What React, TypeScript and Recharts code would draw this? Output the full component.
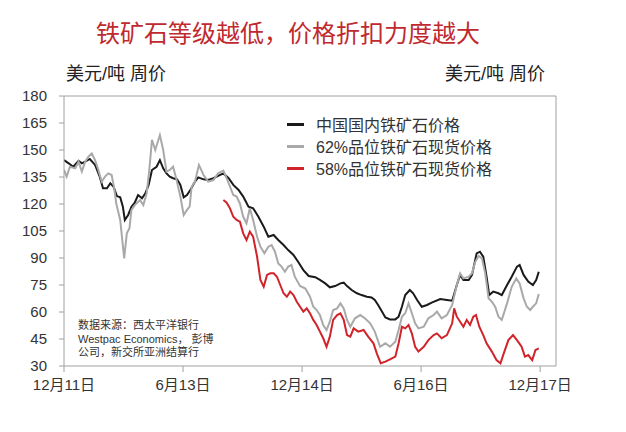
import React from 'react';
import { LineChart, Line, XAxis, YAxis, ReferenceLine } from 'recharts';

// Months since Dec 2011 on the x axis
const xTickMonths = [0, 18, 36, 54, 72];
const xTickLabels = ['12月11日', '6月13日', '12月14日', '6月16日', '12月17日'];
const yTicks = [30, 45, 60, 75, 90, 105, 120, 135, 150, 165, 180];
const seriesNames = ['中国国内铁矿石价格', '62%品位铁矿石现货价格', '58%品位铁矿石现货价格'];
const seriesColors = ['#1a1a1a', '#a9a9a9', '#d1232a'];
const titleText = '铁矿石等级越低，价格折扣力度越大';
const unitText = '美元/吨 周价';
const sourceLines = ['数据来源：西太平洋银行', 'Westpac Economics， 彭博', '公司，新交所亚洲结算行'];

// [month, US$/t]
const domesticPrice: [number, number][] = [
  [0, 144.4], [0.7, 142.6], [1.4, 140.7], [2.2, 144], [2.7, 142.6], [3.2, 143.5], [3.9, 145], [4.7, 141.7],
  [5.4, 135.2], [5.9, 128.7], [6.5, 128.7], [7.0, 131.5], [7.5, 129.6], [8.0, 124.4], [8.5, 123.7], [8.9, 118.5],
  [9.2, 111.1], [9.7, 113.9], [10.2, 118.5], [10.7, 120.7], [11.2, 125], [11.8, 123.2], [12.3, 125.9], [12.8, 130.6],
  [13.3, 138.9], [14.0, 140.7], [14.5, 144.4], [15.0, 139.8], [15.5, 137], [16.0, 135.2], [16.5, 134.3], [17.1, 133.7],
  [17.6, 130.6], [18.1, 123.7], [18.6, 125], [19.1, 127.8], [19.8, 132.4], [20.3, 134.8], [21.1, 133.7], [21.8, 133.3],
  [22.6, 134.3], [23.3, 135.6], [24.1, 137], [24.9, 134.3], [25.6, 130.6], [26.4, 127.8], [27.1, 124.1], [27.9, 118.5],
  [28.6, 117.6], [29.4, 112.9], [30.2, 107.4], [30.9, 101.8], [31.7, 102.8], [32.4, 100], [33.2, 97.2], [33.9, 94.4],
  [34.7, 91.7], [35.4, 87.9], [36.2, 83.3], [37.0, 80], [38.0, 79.3], [38.7, 77.8], [39.5, 75.9], [40.2, 73.7],
  [41.0, 74.4], [41.8, 75.9], [42.3, 76.3], [42.8, 74.4], [43.5, 72.2], [44.3, 70.4], [45.0, 69.4], [45.8, 68.5],
  [46.5, 68.1], [47.0, 66.7], [47.5, 63.9], [48.1, 60.2], [48.6, 57], [49.3, 55.9], [50.1, 55.9], [50.6, 57.4],
  [51.1, 62.9], [51.6, 69.4], [52.3, 72.2], [52.8, 70.4], [53.4, 66.7], [54.1, 62.9], [54.9, 63.9], [55.6, 65.2],
  [56.9, 67.2], [57.9, 66.7], [58.7, 66.3], [59.4, 75], [59.9, 80.6], [60.4, 77.8], [61.2, 77.8], [61.7, 80.6],
  [62.4, 92.6], [62.9, 93.5], [63.4, 90.7], [63.9, 79.6], [64.3, 69.4], [64.9, 71.3], [65.7, 70.4], [66.2, 69.4],
  [67.0, 75], [67.7, 79.6], [68.5, 85.2], [68.9, 86.1], [69.5, 80.6], [70.2, 76.9], [70.9, 75], [71.4, 77.8], [71.8, 82.4],
];

const spot62: [number, number][] = [
  [0, 138.9], [0.4, 135.2], [0.9, 140.7], [1.7, 139.8], [2.2, 143.5], [2.7, 138], [3.2, 143.5], [3.7, 146.3],
  [4.2, 148.1], [4.7, 144.4], [5.2, 138.9], [5.7, 132.4], [6.2, 135.2], [6.7, 137], [7.2, 136.1], [7.6, 128.7],
  [7.9, 120.3], [8.5, 111.1], [9.1, 89.8], [9.5, 103.7], [9.9, 106.5], [10.2, 116.7], [10.7, 119.4], [11.5, 122.2],
  [12.0, 119.4], [12.5, 125.9], [12.9, 138.9], [13.3, 155.6], [13.8, 150], [14.5, 158.3], [15.0, 150], [15.5, 138],
  [16.0, 138.9], [16.5, 140.7], [16.9, 135.2], [17.6, 124.1], [18.1, 113.9], [18.6, 116.7], [19.0, 118.5], [19.3, 129.6],
  [19.8, 132.4], [20.4, 141.7], [21.1, 136.1], [21.8, 132.4], [22.6, 133.3], [23.3, 137], [24.1, 138.5], [24.6, 134.3],
  [25.1, 129.6], [25.6, 125], [26.1, 124.1], [26.6, 120.3], [27.1, 112.9], [27.6, 109.3], [28.1, 117.6], [28.6, 111.1],
  [29.2, 101.8], [29.7, 96.3], [30.3, 92.6], [30.9, 96.3], [31.4, 97.2], [31.9, 93.5], [32.4, 87], [32.9, 85.2],
  [33.4, 82.4], [33.9, 85.2], [34.4, 86.1], [34.9, 79.6], [35.7, 74.5], [36.5, 73], [37.2, 68.5], [37.7, 62.9],
  [38.2, 61.1], [38.7, 58.3], [39.2, 52.8], [39.7, 50], [40.2, 54.6], [40.7, 61.1], [41.3, 62], [41.8, 64.8],
  [42.3, 62], [42.8, 55.6], [43.3, 51.8], [44.0, 56.5], [44.8, 58.3], [45.5, 56.5], [46.3, 53.7], [47.0, 49.1],
  [47.8, 40.7], [48.6, 42.6], [49.3, 40.7], [50.1, 43.5], [50.6, 50], [51.1, 57.4], [51.6, 59.3], [52.1, 64.8],
  [52.6, 59.3], [53.1, 53.7], [53.6, 50.9], [54.4, 51.8], [55.1, 56.5], [55.9, 58.3], [56.4, 60.2], [57.1, 56.5],
  [57.9, 58.3], [58.7, 63.9], [59.4, 75], [59.9, 81.5], [60.4, 78.7], [61.2, 79.6], [61.7, 81.5], [62.2, 87.9],
  [62.7, 91.1], [63.2, 89.8], [63.7, 81.5], [64.2, 67.6], [64.7, 65.7], [65.2, 62.9], [65.7, 57.4], [66.2, 55.6],
  [67.0, 64.8], [67.7, 74], [68.4, 78.7], [68.9, 75.9], [69.5, 67.6], [70.0, 62.9], [70.5, 61.1], [70.9, 62.9],
  [71.4, 64.8], [71.8, 70],
];

const spot58: [number, number][] = [
  [24.1, 122.2], [24.6, 120.7], [25.1, 117.6], [25.6, 112.9], [26.1, 111.1], [26.6, 110.2], [27.1, 103.7], [27.6, 100],
  [28.1, 104.6], [28.6, 101.8], [29.2, 90.7], [29.7, 77.8], [30.2, 74], [30.7, 80.6], [31.2, 81.5], [31.7, 81.5],
  [32.2, 79.6], [32.7, 75], [33.2, 70.4], [33.7, 68.5], [34.2, 71.3], [34.7, 69.4], [35.2, 65.7], [35.7, 62.9],
  [36.2, 60.2], [36.7, 62], [37.2, 59.3], [37.7, 55.6], [38.2, 52.8], [38.7, 49.1], [39.2, 45.4], [39.7, 40.7],
  [40.2, 46.3], [40.7, 55.6], [41.3, 58.3], [41.8, 59.3], [42.3, 55.6], [42.8, 47.2], [43.3, 46.3], [43.8, 50.9],
  [44.5, 49.1], [45.3, 50], [46.0, 46.3], [46.8, 42.6], [47.3, 37], [47.9, 31.5], [48.6, 32.4], [49.3, 33.7],
  [50.1, 35.2], [50.6, 42.6], [51.1, 51.8], [51.6, 50.9], [52.1, 52.8], [52.6, 48.1], [53.1, 40.7], [53.6, 38],
  [54.4, 40.7], [55.1, 44.4], [55.9, 47.2], [56.4, 48.1], [57.1, 45.4], [57.9, 47.2], [58.7, 53.7], [59.0, 62],
  [59.4, 57.4], [59.9, 54.6], [60.4, 51.8], [60.9, 55.6], [61.4, 52.8], [61.9, 57.4], [62.3, 58.3], [62.8, 51.8],
  [63.4, 47.2], [63.9, 42.6], [64.7, 38], [65.4, 33.3], [66.0, 31.5], [66.5, 37], [67.2, 44.4], [67.9, 47.2],
  [68.5, 44.4], [69.2, 40.7], [69.7, 35.2], [70.2, 36.1], [70.8, 33.3], [71.3, 38.9], [71.8, 39.8],
];

const toRows = (pairs: [number, number][]) => pairs.map(([m, v]) => ({ m, v }));
const seriesData = [toRows(domesticPrice), toRows(spot62), toRows(spot58)];

const FONT = '"Liberation Sans", "Noto Sans CJK SC", Arial, sans-serif';
const AXIS = '#a0a0a0';
const TEXT = '#333';

export default function App() {
  return (
    <div style={{ position: 'absolute', left: 0, top: 0, width: 626, height: 432, background: '#fff', fontFamily: FONT, overflow: 'hidden' }}>
      <LineChart width={626} height={432} margin={{ top: 96, right: 0, bottom: 36, left: 0 }}>
        <XAxis
          type="number"
          dataKey="m"
          domain={[0, 74.4]}
          ticks={xTickMonths}
          tickFormatter={(v: number) => xTickLabels[xTickMonths.indexOf(v)]}
          height={30}
          stroke={AXIS}
          tickSize={6}
          tickMargin={7}
          tick={{ fontSize: 15, fill: TEXT, fontFamily: FONT }}
          allowDataOverflow
        />
        <YAxis
          yAxisId="left"
          orientation="left"
          width={64}
          domain={[30, 180]}
          ticks={yTicks}
          stroke={AXIS}
          tickSize={5}
          tickMargin={12}
          tick={{ fontSize: 15, fill: TEXT, fontFamily: FONT }}
          interval={0}
        />
        <YAxis
          yAxisId="right"
          orientation="right"
          width={70}
          domain={[30, 180]}
          ticks={yTicks}
          stroke={AXIS}
          tickSize={5}
          tickMargin={11}
          tick={{ fontSize: 15, fill: TEXT, fontFamily: FONT }}
          interval={0}
        />
        <ReferenceLine yAxisId="left" y={180} stroke={AXIS} strokeWidth={1} />
        {seriesData.map((d, i) => (
          <Line
            key={seriesNames[i]}
            yAxisId="left"
            data={d}
            dataKey="v"
            name={seriesNames[i]}
            type="linear"
            stroke={seriesColors[i]}
            strokeWidth={2}
            dot={false}
            activeDot={false}
            isAnimationActive={false}
          />
        ))}
      </LineChart>

      <div style={{ position: 'absolute', left: 0, width: 576, top: 19, textAlign: 'center', fontSize: 24, color: '#bf2a2f', lineHeight: '30px', whiteSpace: 'nowrap' }}>
        {titleText}
      </div>
      <div style={{ position: 'absolute', left: 66, top: 63, fontSize: 18, color: '#222', lineHeight: '22px', whiteSpace: 'nowrap' }}>{unitText}</div>
      <div style={{ position: 'absolute', left: 445, top: 63, fontSize: 18, color: '#222', lineHeight: '22px', whiteSpace: 'nowrap' }}>{unitText}</div>

      <div style={{ position: 'absolute', left: 287, top: 113 }}>
        {seriesNames.map((n, i) => (
          <div key={n} style={{ display: 'flex', alignItems: 'center', height: 22 }}>
            <div style={{ width: 17, height: 3, background: seriesColors[i], marginRight: 12 }} />
            <span style={{ fontSize: 16, color: TEXT, whiteSpace: 'nowrap' }}>{n}</span>
          </div>
        ))}
      </div>

      <div style={{ position: 'absolute', left: 78, top: 319 }}>
        {sourceLines.map((s) => (
          <div key={s} style={{ fontSize: 11, color: TEXT, lineHeight: '13.5px', whiteSpace: 'nowrap' }}>{s}</div>
        ))}
      </div>
    </div>
  );
}
